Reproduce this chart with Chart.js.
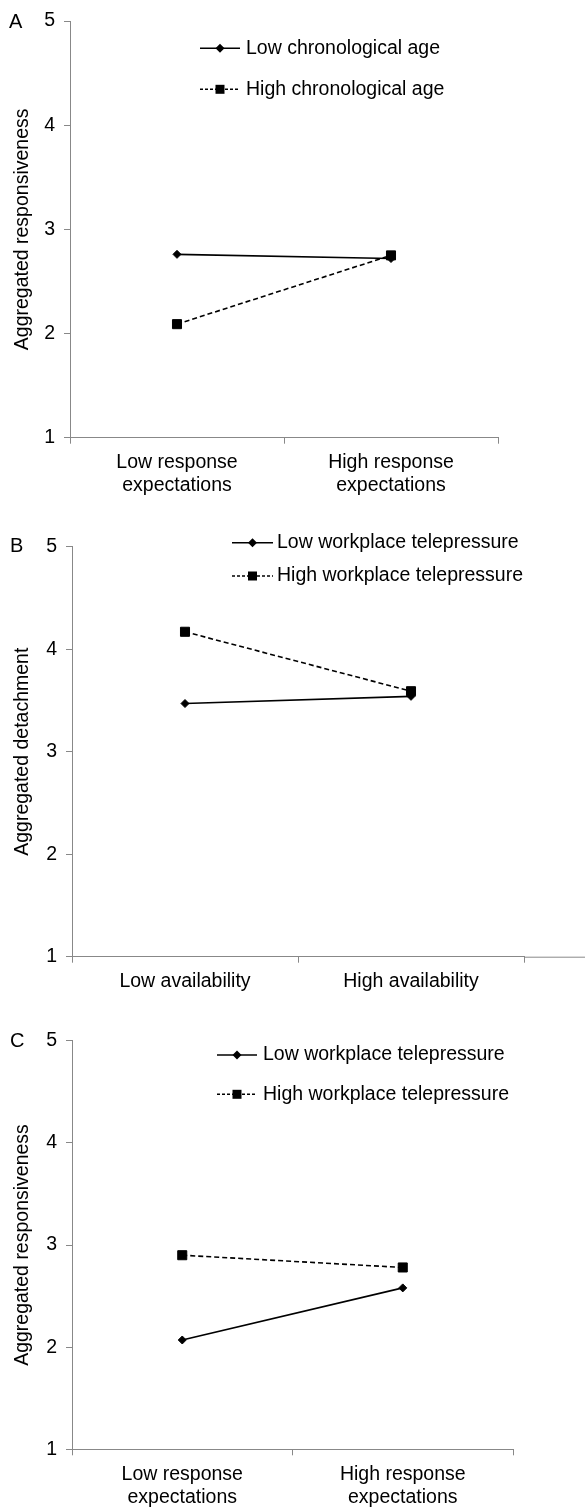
<!DOCTYPE html>
<html>
<head>
<meta charset="utf-8">
<script src="https://cdn.jsdelivr.net/npm/chart.js@4.4.0/dist/chart.umd.min.js"></script>
<style>
  body { margin: 0; background: #fff; width: 585px; height: 1507px; position: relative; overflow: hidden; font-family: "Liberation Sans", Arial, sans-serif; }
  .panel { position: absolute; left: 0; width: 585px; }
  .tag { position: absolute; font-size: 20px; line-height: 20px; color: #000; }
</style>
</head>
<body>
<div class="panel" style="top:0;height:500px"><canvas id="chartA" width="585" height="500"></canvas></div>
<div class="panel" style="top:500px;height:500px"><canvas id="chartB" width="585" height="500"></canvas></div>
<div class="panel" style="top:1000px;height:507px"><canvas id="chartC" width="585" height="507"></canvas></div>
<div class="tag" style="left:9px;top:11px">A</div>
<div class="tag" style="left:10px;top:535px">B</div>
<div class="tag" style="left:10px;top:1030px">C</div>

<script>
// panel A
const expectationLabels = [["Low response", "expectations"], ["High response", "expectations"]];
const lowAgeA = [2.76, 2.72];
const highAgeA = [2.09, 2.75];

// panel B
const availabilityLabels = ["Low availability", "High availability"];
const lowTeleB = [3.47, 3.54];
const highTeleB = [4.17, 3.59];

// panel C
const lowTeleC = [2.07, 2.58];
const highTeleC = [2.9, 2.78];

const yMin = 1;
const yMax = 5;

const FONT = '"Liberation Sans", Arial, sans-serif';
Chart.defaults.font.family = FONT;
Chart.defaults.font.size = 19.5;
Chart.defaults.font.lineHeight = 1.17;
Chart.defaults.color = "#000";

function drawMark(ctx, style, x, y) {
  ctx.fillStyle = "#000";
  ctx.beginPath();
  if (style === "rect") {
    ctx.rect(x - 4.5, y - 4.5, 9, 9);
  } else {
    ctx.moveTo(x, y - 4.5);
    ctx.lineTo(x + 4.5, y);
    ctx.lineTo(x, y + 4.5);
    ctx.lineTo(x - 4.5, y);
    ctx.closePath();
  }
  ctx.fill();
}

// legend drawn inside the plot: line sample with marker, then label
const innerLegend = {
  id: "innerLegend",
  afterDraw(chart, args, opts) {
    const ctx = chart.ctx;
    chart.data.datasets.forEach((ds, i) => {
      const y = opts.ys[i];
      ctx.save();
      ctx.strokeStyle = "#000";
      ctx.lineWidth = 1.5;
      ctx.setLineDash(ds.borderDash ? [3, 2] : []);
      ctx.beginPath();
      ctx.moveTo(opts.x, y);
      ctx.lineTo(opts.x + opts.len, y);
      ctx.stroke();
      ctx.setLineDash([]);
      drawMark(ctx, ds.pointStyle, opts.x + opts.len / 2, y);
      ctx.font = "19.5px " + FONT;
      ctx.textBaseline = "middle";
      ctx.fillText(ds.label, opts.textX, y);
      ctx.restore();
    });
  },
};

// x axis line running on past the plot (panel B)
const axisRunOn = {
  id: "axisRunOn",
  afterDraw(chart, args, opts) {
    if (!opts.on) return;
    const ctx = chart.ctx;
    const a = chart.chartArea;
    ctx.save();
    ctx.strokeStyle = "#888";
    ctx.lineWidth = 1;
    ctx.beginPath();
    ctx.moveTo(a.right, a.bottom + 0.5);
    ctx.lineTo(chart.width, a.bottom + 0.5);
    ctx.stroke();
    ctx.restore();
  },
};

function makePanel(id, p) {
  new Chart(document.getElementById(id).getContext("2d"), {
    type: "line",
    data: {
      labels: p.labels,
      datasets: [
        {
          label: p.names[0],
          data: p.low,
          borderColor: "#000",
          backgroundColor: "#000",
          borderWidth: 1.6,
          pointStyle: "rectRot",
          pointRadius: 4,
          pointBorderWidth: 1,
          clip: false,
          order: 1,
        },
        {
          label: p.names[1],
          data: p.high,
          borderColor: "#000",
          backgroundColor: "#000",
          borderWidth: 1.6,
          borderDash: [5, 3],
          pointStyle: "rect",
          pointRadius: 6.4,
          pointBorderWidth: 1,
          clip: false,
          order: 0,
        },
      ],
    },
    options: {
      responsive: false,
      animation: false,
      events: [],
      layout: { padding: { top: p.top, right: p.right, left: 0, bottom: 0 } },
      plugins: {
        legend: { display: false },
        tooltip: { enabled: false },
        innerLegend: p.legend,
        axisRunOn: { on: !!p.runOn },
      },
      scales: {
        x: {
          offset: true,
          grid: { offset: true, drawOnChartArea: false, tickLength: 6, color: "#888" },
          border: { color: "#888", width: 1 },
          ticks: { padding: 8, maxRotation: 0, autoSkip: false, color: "#000" },
          afterFit: (s) => { s.height = p.xHeight; },
        },
        y: {
          min: yMin,
          max: yMax,
          ticks: { stepSize: 1, padding: 9, color: "#000" },
          grid: { drawOnChartArea: false, tickLength: 6, color: "#888" },
          border: { color: "#888", width: 1 },
          title: { display: true, text: p.yTitle, color: "#000", padding: { top: 11, bottom: 0 } },
          afterFit: (s) => { s.width = p.left; },
        },
      },
    },
    plugins: [innerLegend, axisRunOn],
  });
}

makePanel("chartA", {
  labels: expectationLabels,
  names: ["Low chronological age", "High chronological age"],
  low: lowAgeA,
  high: highAgeA,
  yTitle: "Aggregated responsiveness",
  top: 21, right: 87, left: 70, xHeight: 62.3,
  legend: { x: 200, len: 40, textX: 246, ys: [48.3, 89.3] },
});

makePanel("chartB", {
  labels: availabilityLabels,
  names: ["Low workplace telepressure", "High workplace telepressure"],
  low: lowTeleB,
  high: highTeleB,
  yTitle: "Aggregated detachment",
  top: 46.7, right: 61, left: 72, xHeight: 43.3,
  legend: { x: 232, len: 41, textX: 277, ys: [42.7, 76] },
  runOn: true,
});

makePanel("chartC", {
  labels: expectationLabels,
  names: ["Low workplace telepressure", "High workplace telepressure"],
  low: lowTeleC,
  high: highTeleC,
  yTitle: "Aggregated responsiveness",
  top: 40.7, right: 72, left: 72, xHeight: 57.7,
  legend: { x: 217, len: 40, textX: 263, ys: [55, 94.3] },
});
</script>
</body>
</html>
